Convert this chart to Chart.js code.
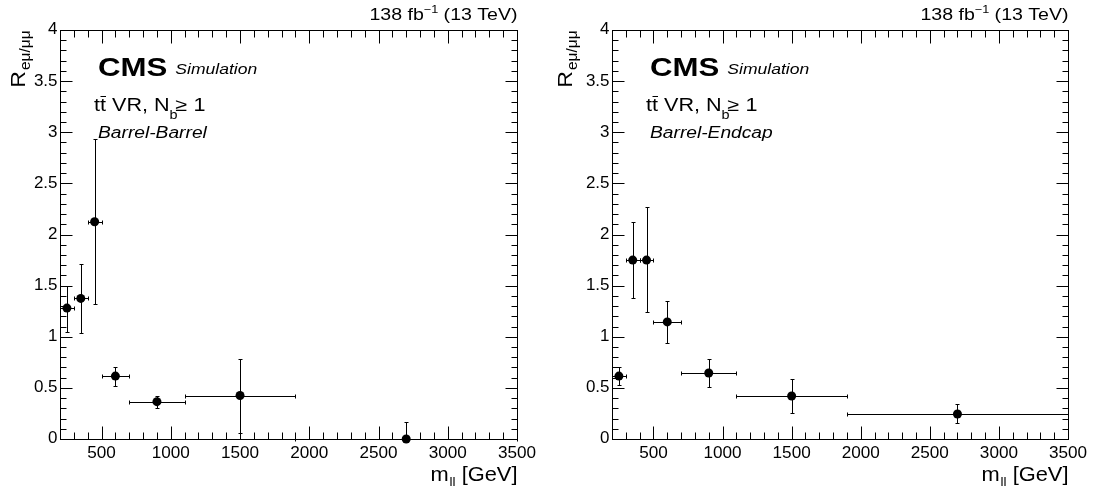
<!DOCTYPE html>
<html>
<head>
<meta charset="utf-8">
<script src="https://cdn.jsdelivr.net/npm/chart.js@4.4.1/dist/chart.umd.min.js"></script>
<style>
  body { margin: 0; background: #fff; }
  #wrap { position: relative; width: 1094px; height: 494px; }
  canvas { position: absolute; top: 0; }
</style>
</head>
<body>
<div id="wrap">
  <canvas id="c-bb" width="547" height="494" style="left:0"></canvas>
  <canvas id="c-be" width="547" height="494" style="left:547px"></canvas>
</div>
<script>
// ── データ ───────────────────────────────────────────────
const massCenter = [250, 350, 450, 600, 900, 1500, 2700];
const massLow    = [200, 300, 400, 500, 700, 1100, 1900];
const massHigh   = [300, 400, 500, 700, 1100, 1900, 3500];

// Barrel-Barrel
const bbRatio     = [1.28, 1.375, 2.125, 0.615, 0.365, 0.425, 0.0];
const bbRatioLow  = [1.05, 1.04,  1.32,  0.52,  0.30,  0.06,  0.0];
const bbRatioHigh = [1.50, 1.71,  2.93,  0.70,  0.42,  0.785, 0.17];

// Barrel-Endcap
const beRatio     = [0.615, 1.75, 1.75, 1.145, 0.645, 0.42,  0.245];
const beRatioLow  = [0.525, 1.38, 1.24, 0.94,  0.51,  0.255, 0.155];
const beRatioHigh = [0.70,  2.12, 2.27, 1.345, 0.785, 0.585, 0.34];

const xTickLabels = [500, 1000, 1500, 2000, 2500, 3000, 3500];
const yTickLabels = [0, 0.5, 1, 1.5, 2, 2.5, 3, 3.5, 4];

const X_MIN = 200, X_MAX = 3500, X_MINOR = 100;
const Y_MIN = 0,   Y_MAX = 4,    Y_MINOR = 0.1;

const FONT = '"Liberation Sans", Arial, Helvetica, sans-serif';

// ── テキスト描画（横伸ばし＋上付き・下付き） ─────────────
// runs: { t, font, dy, gap }，sx は横方向の伸び率
function drawRuns(ctx, x, y, runs, align, sx = 1) {
  let total = 0;
  runs.forEach((r) => {
    ctx.font = r.font;
    r.w = ctx.measureText(r.t).width * sx;
    total += r.w + (r.gap || 0);
  });
  let cx = align === "right" ? x - total : x;
  ctx.textAlign = "left";
  ctx.textBaseline = "alphabetic";
  runs.forEach((r) => {
    cx += r.gap || 0;
    ctx.save();
    ctx.translate(cx, y + (r.dy || 0));
    ctx.scale(sx, 1);
    ctx.font = r.font;
    ctx.fillText(r.t, 0, 0);
    ctx.restore();
    cx += r.w;
  });
  return cx;
}

function drawLabel(ctx, text, x, y, align, baseline, sx) {
  ctx.save();
  ctx.translate(x, y);
  ctx.scale(sx, 1);
  ctx.textAlign = align;
  ctx.textBaseline = baseline;
  ctx.fillText(text, 0, 0);
  ctx.restore();
}

// ── ROOT風フレーム・目盛り・誤差棒 ──────────────────────
const rootFrame = {
  id: "rootFrame",
  beforeDatasetsDraw(chart) {
    const { ctx, scales: { x, y } } = chart;
    const cap = 2;
    ctx.save();
    ctx.strokeStyle = "#000";
    ctx.lineWidth = 1;
    chart.data.datasets[0].data.forEach((p) => {
      const px = Math.round(x.getPixelForValue(p.x)) + 0.5;
      const py = Math.round(y.getPixelForValue(p.y)) + 0.5;
      const x0 = Math.round(x.getPixelForValue(p.xLo)) + 0.5;
      const x1 = Math.round(x.getPixelForValue(p.xHi)) + 0.5;
      const y0 = Math.round(y.getPixelForValue(p.yLo)) + 0.5;
      const y1 = Math.round(y.getPixelForValue(p.yHi)) + 0.5;
      ctx.beginPath();
      ctx.moveTo(x0, py); ctx.lineTo(x1, py);
      ctx.moveTo(x0, py - cap); ctx.lineTo(x0, py + cap);
      ctx.moveTo(x1, py - cap); ctx.lineTo(x1, py + cap);
      ctx.moveTo(px, y0); ctx.lineTo(px, y1);
      ctx.moveTo(px - cap, y0); ctx.lineTo(px + cap, y0);
      ctx.moveTo(px - cap, y1); ctx.lineTo(px + cap, y1);
      ctx.stroke();
    });
    ctx.restore();
  },
  afterDraw(chart, args, opts) {
    const { ctx, chartArea: a, scales: { x, y } } = chart;
    const L = Math.round(a.left) + 0.5, R = Math.round(a.right) + 0.5;
    const T = Math.round(a.top) + 0.5,  B = Math.round(a.bottom) + 0.5;
    ctx.save();
    ctx.strokeStyle = "#000";
    ctx.fillStyle = "#000";
    ctx.lineWidth = 1;

    // 枠
    ctx.strokeRect(L, T, R - L, B - T);

    // x 目盛り（上下）
    ctx.beginPath();
    for (let v = X_MIN; v <= X_MAX + 1e-6; v += X_MINOR) {
      const px = Math.round(x.getPixelForValue(v)) + 0.5;
      const len = v % 500 === 0 ? 13 : 7;
      ctx.moveTo(px, B); ctx.lineTo(px, B - len);
      ctx.moveTo(px, T); ctx.lineTo(px, T + len);
    }
    // y 目盛り（左右）
    for (let i = 0; i <= Math.round((Y_MAX - Y_MIN) / Y_MINOR); i++) {
      const v = Y_MIN + i * Y_MINOR;
      const py = Math.round(y.getPixelForValue(v)) + 0.5;
      const len = i % 5 === 0 ? 12 : 6;
      ctx.moveTo(L, py); ctx.lineTo(L + len, py);
      ctx.moveTo(R, py); ctx.lineTo(R - len, py);
    }
    ctx.stroke();

    // 目盛りラベル
    ctx.font = "16px " + FONT;
    xTickLabels.forEach((v) => {
      drawLabel(ctx, String(v), x.getPixelForValue(v), B + 18, "center", "alphabetic", 1.07);
    });
    yTickLabels.forEach((v) => {
      drawLabel(ctx, String(v), L - 3, y.getPixelForValue(v), "right", "middle", 1.06);
    });

    // 軸タイトル
    drawRuns(ctx, R, B + 41, [
      { t: "m", font: "21px " + FONT },
      { t: "ll", font: "13px " + FONT, dy: 5, gap: 1 },
      { t: " [GeV]", font: "21px " + FONT },
    ], "right", 1.04);

    ctx.save();
    ctx.translate(25, T);
    ctx.rotate(-Math.PI / 2);
    drawRuns(ctx, 0, 0, [
      { t: "R", font: "21px " + FONT },
      { t: "eμ/μμ", font: "14px " + FONT, dy: 5, gap: 1 },
    ], "right", 1.1);
    ctx.restore();

    // ルミノシティ
    drawRuns(ctx, R, 20, [
      { t: "138 fb", font: "17px " + FONT },
      { t: "−1", font: "11px " + FONT, dy: -7 },
      { t: " (13 TeV)", font: "17px " + FONT },
    ], "right", 1.15);

    // CMS ラベル
    const lx = a.left + 38;
    const cmsEnd = drawRuns(ctx, lx, 76, [
      { t: "CMS", font: "bold 26px " + FONT },
    ], "left", 1.2);
    drawRuns(ctx, cmsEnd + 8, 74, [
      { t: "Simulation", font: "italic 15px " + FONT },
    ], "left", 1.17);

    // tt̄ VR, Nb ≥ 1
    const tx = a.left + 34;
    const sxT = 1.2;
    ctx.font = "18px " + FONT;
    const tw = ctx.measureText("t").width * sxT;
    drawRuns(ctx, tx, 111, [
      { t: "tt VR, N", font: "18px " + FONT },
      { t: "b", font: "12px " + FONT, dy: 8 },
      { t: "≥ 1", font: "18px " + FONT, gap: -2 },
    ], "left", sxT);
    ctx.beginPath();
    ctx.moveTo(tx + tw + 0.5, 96.5);
    ctx.lineTo(tx + 2 * tw, 96.5);
    ctx.stroke();

    drawRuns(ctx, lx, 138, [
      { t: opts.region, font: "italic 16px " + FONT },
    ], "left", 1.2);

    ctx.restore();
  },
};

// ── チャート生成 ─────────────────────────────────────────
function makeChart(id, values, lows, highs, region, pad) {
  const points = massCenter.map((m, i) => ({
    x: m, y: values[i],
    xLo: massLow[i], xHi: massHigh[i],
    yLo: lows[i], yHi: highs[i],
  }));
  return new Chart(document.getElementById(id), {
    type: "scatter",
    data: {
      datasets: [{
        data: points,
        backgroundColor: "#000",
        borderColor: "#000",
        pointRadius: 4.5,
        pointHoverRadius: 4.5,
        borderWidth: 0,
        clip: false,
      }],
    },
    options: {
      responsive: false,
      animation: false,
      events: [],
      layout: { padding: pad },
      plugins: {
        legend: { display: false },
        tooltip: { enabled: false },
        rootFrame: { region },
      },
      scales: {
        x: { type: "linear", min: X_MIN, max: X_MAX, display: false },
        y: { type: "linear", min: Y_MIN, max: Y_MAX, display: false },
      },
    },
    plugins: [rootFrame],
  });
}

makeChart("c-bb", bbRatio, bbRatioLow, bbRatioHigh, "Barrel-Barrel",
  { left: 60, right: 30, top: 30, bottom: 55 });
makeChart("c-be", beRatio, beRatioLow, beRatioHigh, "Barrel-Endcap",
  { left: 65, right: 26, top: 30, bottom: 55 });
</script>
</body>
</html>
